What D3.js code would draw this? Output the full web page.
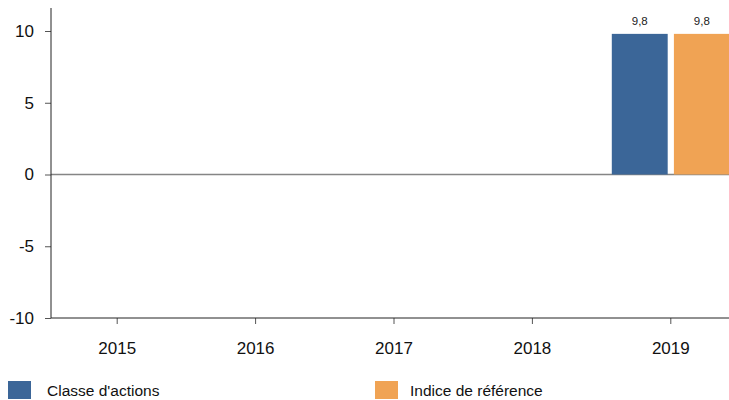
<!DOCTYPE html>
<html>
<head>
<meta charset="utf-8">
<script src="https://cdn.jsdelivr.net/npm/d3@7"></script>
<style>
  body { margin: 0; background: #fff; }
  svg { font-family: "Liberation Sans", Arial, sans-serif; }
</style>
</head>
<body>
<div id="chart"></div>
<script>
// data
var years = ["2015", "2016", "2017", "2018", "2019"];
var seriesNames = ["Classe d'actions", "Indice de référence"];
var classeValues = [null, null, null, null, 9.8];
var indiceValues = [null, null, null, null, 9.8];
var yTicks = [-10, -5, 0, 5, 10];
var colors = ["#3b6698", "#f0a354"];

var width = 729, height = 400;
var margin = {left: 51, top: 8, bottom: 318};

var svg = d3.select("#chart").append("svg")
            .attr("width", width)
            .attr("height", height);

var x = d3.scaleBand()
          .domain(years)
          .range([48, 740])
          .padding(0);

var y = d3.scaleLinear()
          .domain([-10, 10])
          .range([318, 31]);

// position of each series inside a year band (offset from centre)
var inner = d3.scaleBand()
              .domain([0, 1])
              .range([-59, 59])
              .paddingInner(0.1);

// zero line
svg.append("line")
   .attr("x1", margin.left).attr("x2", width)
   .attr("y1", y(0)).attr("y2", y(0))
   .attr("stroke", "#858585")
   .attr("stroke-width", 1.5);

// bars + value labels
var seriesValues = [classeValues, indiceValues];
seriesValues.forEach(function(vals, s){
    var data = years.map(function(yr, i){ return {year: yr, value: vals[i]}; })
                    .filter(function(d){ return d.value != null; });
    var g = svg.append("g").attr("class", "series" + s);
    g.selectAll("rect")
     .data(data)
     .enter()
     .append("rect")
     .attr("x", function(d){ return x(d.year) + x.bandwidth()/2 + inner(s); })
     .attr("width", inner.bandwidth())
     .attr("y", function(d){ return y(Math.max(0, d.value)); })
     .attr("height", function(d){ return Math.abs(y(d.value) - y(0)); })
     .attr("fill", colors[s]);
    g.selectAll("text")
     .data(data)
     .enter()
     .append("text")
     .attr("x", function(d){ return x(d.year) + x.bandwidth()/2 + inner(s) + inner.bandwidth()/2; })
     .attr("y", function(d){ return y(d.value) - 9; })
     .attr("text-anchor", "middle")
     .attr("font-size", "11.5px")
     .attr("fill", "#222")
     .text(function(d){ return String(d.value).replace(".", ","); });
});

// y axis
var yAxis = svg.append("g")
   .attr("transform", "translate(" + margin.left + ",0)")
   .call(d3.axisLeft(y).tickValues(yTicks).tickFormat(function(d){ return String(d); })
           .tickSize(6).tickSizeOuter(0).tickPadding(11));
yAxis.select(".domain").remove();
yAxis.append("line")
   .attr("x1", 0).attr("x2", 0)
   .attr("y1", margin.top).attr("y2", margin.bottom)
   .attr("stroke", "#222");
yAxis.selectAll(".tick line").attr("stroke", "#555");
yAxis.selectAll(".tick text")
     .attr("font-size", "17px")
     .attr("fill", "#111")
     .attr("font-family", "Liberation Sans, Arial, sans-serif");

// x axis
var xAxis = svg.append("g")
   .attr("transform", "translate(0," + margin.bottom + ")")
   .call(d3.axisBottom(x).tickSize(6).tickSizeOuter(0).tickPadding(18));
xAxis.select(".domain").remove();
xAxis.append("line")
   .attr("x1", margin.left).attr("x2", width)
   .attr("y1", 0).attr("y2", 0)
   .attr("stroke", "#222");
xAxis.selectAll(".tick line").attr("stroke", "#555");
xAxis.selectAll(".tick text")
     .attr("font-size", "17px")
     .attr("fill", "#111")
     .attr("font-family", "Liberation Sans, Arial, sans-serif");

// legend
var legendX = [8, 375];
var legend = svg.append("g").attr("class", "legend");
seriesNames.forEach(function(name, i){
    legend.append("rect")
          .attr("x", legendX[i]).attr("y", 381)
          .attr("width", 23).attr("height", 18)
          .attr("fill", colors[i]);
    legend.append("text")
          .attr("x", legendX[i] + (i == 0 ? 39 : 35)).attr("y", 396)
          .attr("font-size", "15.5px")
          .attr("fill", "#111")
          .text(name);
});
</script>
</body>
</html>
